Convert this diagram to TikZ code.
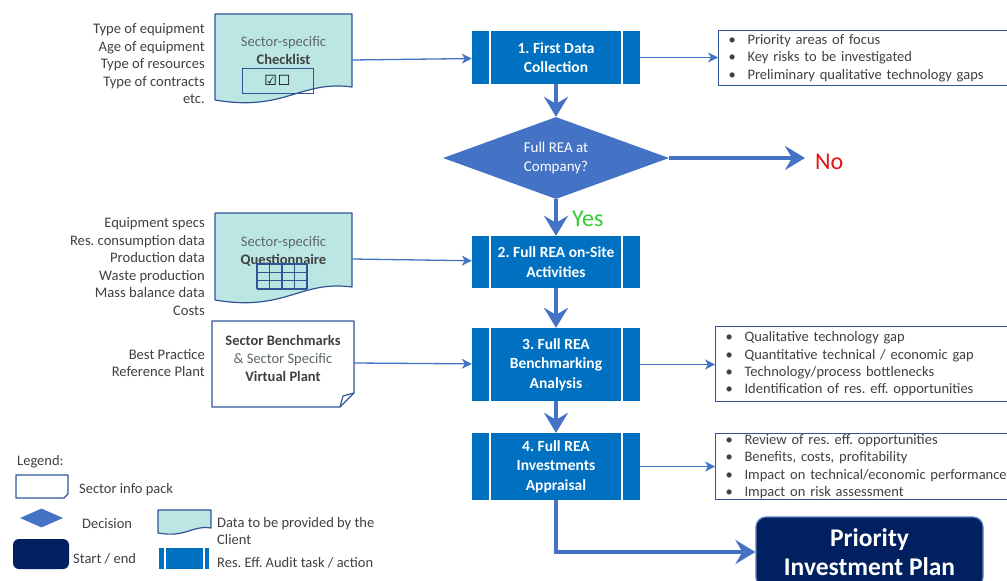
\documentclass[tikz,border=0pt]{standalone}
\usepackage{fontspec}
\setmainfont{Carlito}
\newfontfamily\symf{DejaVu Sans}
\usetikzlibrary{shapes.geometric,arrows.meta}
\definecolor{taskblue}{HTML}{0070C0}
\definecolor{arrowblue}{HTML}{4472C4}
\definecolor{docborder}{HTML}{2F5597}
\definecolor{cyanfill}{HTML}{BCE6E4}
\definecolor{navy}{HTML}{002060}
\definecolor{prioborder}{HTML}{5B7DB8}
\definecolor{txtgrey}{HTML}{404040}
\definecolor{doctxt}{HTML}{5A656C}
\definecolor{yesgreen}{HTML}{33CC33}
\definecolor{nored}{HTML}{E81010}
\frenchspacing
\tikzset{
  lefttext/.style={anchor=east, align=right, text=txtgrey, inner sep=0pt,
    font=\fontsize{14.6}{17.5}\selectfont},
  legtext/.style={anchor=west, align=left, text=txtgrey, inner sep=0pt,
    font=\fontsize{14.5}{16.5}\selectfont},
  doctext/.style={align=center, text=doctxt, inner sep=0pt,
    font=\fontsize{14.5}{18}\selectfont},
  docshape/.style={draw=docborder, line width=1.2pt, line join=round},
  taskbox/.style={fill=taskblue, text=white, align=center, inner sep=0pt,
    minimum width=168pt, font=\bfseries\fontsize{15.5}{19.5}\selectfont,
    path picture={
      \draw[white, line width=1.6pt]
        ([xshift=18pt]path picture bounding box.north west) -- ([xshift=18pt]path picture bounding box.south west)
        ([xshift=-18pt]path picture bounding box.north east) -- ([xshift=-18pt]path picture bounding box.south east);}},
  legtask/.style={fill=taskblue, inner sep=0pt, minimum width=50pt, minimum height=21pt,
    path picture={
      \draw[white, line width=2pt]
        ([xshift=5.5pt]path picture bounding box.north west) -- ([xshift=5.5pt]path picture bounding box.south west)
        ([xshift=-5.5pt]path picture bounding box.north east) -- ([xshift=-5.5pt]path picture bounding box.south east);}},
  bulletbox/.style={draw=docborder, line width=1.1pt, fill=white, anchor=north west,
    align=left, text=txtgrey, inner xsep=10pt, inner ysep=0pt, text width=320pt,
    minimum width=340pt, font=\fontsize{14.5}{17.3}\selectfont},
  thinarrow/.style={draw=arrowblue, line width=1.3pt, -{Stealth[length=10pt,width=10pt,inset=3pt]}},
  thickarrow/.style={draw=arrowblue, line width=4pt, -{Stealth[length=20pt,width=24pt,inset=7pt]}},
  gridline/.style={draw=docborder, line width=1.2pt},
}
\newcommand{\bul}{\makebox[19pt][l]{\textbullet}}
\begin{document}
\begin{tikzpicture}[x=1pt,y=-1pt]
\useasboundingbox (0,0) rectangle (1007,581);
\clip (0,0) rectangle (1007,581);

% ---------- left texts ----------
\node[lefttext] (lt1) at (205,64) {Type of equipment\\Age of equipment\\Type of resources\\Type of contracts\\etc.};
\node[lefttext] (lt2) at (205,266.5) {Equipment specs\\Res. consumption data\\Production data\\Waste production\\Mass balance data\\Costs};
\node[lefttext] (lt3) at (205,363) {Best Practice\\Reference Plant};

% ---------- checklist document ----------
\path[docshape, fill=cyanfill] (215,14) -- (352,14) -- (352,87)
  .. controls (300,80) and (285,112) .. (215,100) -- cycle;
\node[doctext] (chkt) at (283.5,51) {Sector-specific\\\textbf{\color{txtgrey}Checklist}};
\node[draw=docborder, line width=0.8pt, minimum width=71pt, minimum height=25pt, inner sep=0pt] (cbx) at (277.5,80.5)
  {\symf\bfseries\fontsize{14}{14}\selectfont ☑\kern1pt☐};
\coordinate (chkE) at (352,60);

% ---------- questionnaire document ----------
\path[docshape, fill=cyanfill] (215,213) -- (352,213) -- (352,287)
  .. controls (300,280) and (285,312) .. (215,300) -- cycle;
\node[doctext] (qt) at (283.5,251) {Sector-specific\\\textbf{\color{txtgrey}Questionnaire}};
\foreach \gx in {257,269.5,282,294.5,307} \draw[gridline] (\gx,264) -- (\gx,289);
\foreach \gy in {264,272.33,280.67,289} \draw[gridline] (257,\gy) -- (307,\gy);
\coordinate (qE) at (352,259);

% ---------- benchmark document ----------
\path[docshape, fill=white] (212,321) -- (354,321) -- (354,393) -- (340,407) -- (212,407) -- cycle;
\draw[docshape] (340,407) -- (343,396) -- (354,393);
\node[doctext, text=txtgrey] (bt) at (283,358.5) {\textbf{Sector Benchmarks}\\{\color{doctxt}\& Sector Specific}\\\textbf{Virtual Plant}};
\coordinate (bE) at (354,363);

% ---------- process boxes ----------
\node[taskbox, minimum height=53pt] (b1) at (556,57.5) {1. First Data\\Collection};
\node[diamond, fill=arrowblue, aspect=2.75, minimum width=226pt, minimum height=82pt, inner sep=0pt,
  text=white, align=center, font=\fontsize{15}{18.5}\selectfont] (d) at (556,158) {Full REA at\\Company?};
\node[taskbox, minimum height=52pt] (b2) at (556,262) {2. Full REA on-Site\\Activities};
\node[taskbox, minimum height=73pt] (b3) at (556,364.5) {3. Full REA\\Benchmarking\\Analysis};
\node[taskbox, minimum height=67pt] (b4) at (556,466.5) {4. Full REA\\Investments\\Appraisal};

\node[draw=prioborder, line width=1.2pt, fill=navy, rounded corners=10pt, minimum width=227pt,
  minimum height=70pt, inner sep=0pt, text=white, align=center,
  font=\bfseries\fontsize{25.5}{29.5}\selectfont] (prio) at (869.5,552) {Priority\\Investment Plan};

% ---------- bullet boxes ----------
\node[bulletbox, minimum height=55pt] (bb1) at (718,30)
  {\bul Priority areas of focus\\\bul Key risks to be investigated\\\bul Preliminary qualitative technology gaps};
\node[bulletbox, minimum height=75pt] (bb3) at (715,326)
  {\bul Qualitative technology gap\\\bul Quantitative technical / economic gap\\\bul Technology/process bottlenecks\\\bul Identification of res. eff. opportunities};
\node[bulletbox, minimum height=66pt] (bb4) at (715,433)
  {\bul Review of res. eff. opportunities\\\bul Benefits, costs, profitability\\\bul Impact on technical/economic performance\\\bul Impact on risk assessment};

% ---------- labels ----------
\coordinate (noEnd) at (805,158);
\node[anchor=west, inner sep=0pt, text=nored, font=\fontsize{24}{24}\selectfont] (no) at (815,162) {No};
\node[anchor=west, inner sep=0pt, text=yesgreen, font=\fontsize{24}{24}\selectfont] (yes) at (572,219) {Yes};

% ---------- connectors ----------
\draw[thinarrow] (chkE) -- (b1);
\draw[thinarrow] (qE) -- (b2);
\draw[thinarrow] (bE) -- (b3);
\draw[thinarrow] (b1.east) -- (bb1.west |- b1.east);
\draw[thinarrow] (b3.east) -- (bb3.west |- b3.east);
\draw[thinarrow] (b4.east) -- (bb4.west |- b4.east);
\draw[thickarrow] (b1.south) -- (d.north);
\draw[thickarrow] (d.east) -- (noEnd);
\draw[thickarrow] (d.south) -- (b2.north);
\draw[thickarrow] (b2.south) -- (b3.north);
\draw[thickarrow] (b3.south) -- (b4.north);
\draw[thickarrow] (b4.south) |- (prio.west);

% ---------- legend ----------
\node[legtext] (lgt) at (17,462) {Legend:};
\path[docshape, fill=white] (16,475) -- (68,475) -- (68,494) -- (64,498) -- (16,498) -- cycle;
\node[legtext] (lg1) at (79,490) {Sector info pack};
\node[diamond, fill=arrowblue, aspect=2.26, minimum width=43pt, minimum height=19pt, inner sep=0pt] (lgd) at (41.5,518) {};
\node[legtext] (lg2) at (82,524) {Decision};
\node[fill=navy, rounded corners=6pt, minimum width=56pt, minimum height=30pt, inner sep=0pt] (lgs) at (41,554) {};
\node[legtext] (lg3) at (73,559) {Start / end};
\path[docshape, fill=cyanfill] (158,510) -- (211,510) -- (211,528)
  .. controls (192,525) and (186,538) .. (158,533) -- cycle;
\node[legtext] (lg4) at (217,531) {Data to be provided by the\\Client};
\node[legtask] (lgk) at (184,558.5) {};
\node[legtext] (lg5) at (217,563) {Res. Eff. Audit task / action};
\end{tikzpicture}
\end{document}
